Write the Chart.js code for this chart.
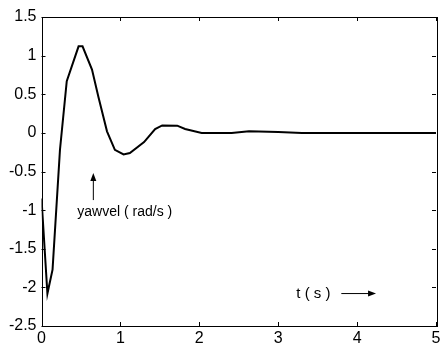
<!DOCTYPE html>
<html>
<head>
<meta charset="utf-8">
<script src="https://cdn.jsdelivr.net/npm/chart.js@4"></script>
<style>
  body { margin: 0; background: #fff; }
  canvas { display: block; }
</style>
</head>
<body>
<canvas id="chart" width="441" height="347"></canvas>
<script>
// yaw velocity step response
var time   = [0, 0.075, 0.14, 0.234, 0.32, 0.47, 0.52, 0.64, 0.72, 0.83, 0.93, 1.04, 1.12, 1.3, 1.44, 1.53, 1.72, 1.82, 2.03, 2.41, 2.63, 3.0, 3.3, 5];
var yawvel = [-0.85, -2.08, -1.77, -0.22, 0.67, 1.12, 1.12, 0.82, 0.47, 0.02, -0.22, -0.28, -0.26, -0.12, 0.05, 0.097, 0.093, 0.05, 0, 0, 0.02, 0.01, 0, 0];
var xTicks = [0, 1, 2, 3, 4, 5];
var yTicks = [-2.5, -2, -1.5, -1, -0.5, 0, 0.5, 1, 1.5];

var points = time.map(function(t, i){ return {x: t, y: yawvel[i]}; });
var FAMILY = '"Liberation Sans", Arial, sans-serif';

function arrow(ctx, x1, y1, x2, y2) {
  var a = Math.atan2(y2 - y1, x2 - x1);
  ctx.beginPath();
  ctx.moveTo(x1, y1);
  ctx.lineTo(x2 - 6 * Math.cos(a), y2 - 6 * Math.sin(a));
  ctx.stroke();
  ctx.beginPath();
  ctx.moveTo(x2, y2);
  ctx.lineTo(x2 - 8 * Math.cos(a) + 3 * Math.sin(a), y2 - 8 * Math.sin(a) - 3 * Math.cos(a));
  ctx.lineTo(x2 - 8 * Math.cos(a) - 3 * Math.sin(a), y2 - 8 * Math.sin(a) + 3 * Math.cos(a));
  ctx.closePath();
  ctx.fill();
}

var frame = {
  id: 'frame',
  afterDraw: function(chart) {
    var ctx = chart.ctx, a = chart.chartArea;
    var xs = chart.scales.x, ys = chart.scales.y;
    ctx.save();
    ctx.strokeStyle = '#000';
    ctx.fillStyle = '#000';
    ctx.lineWidth = 1;
    ctx.strokeRect(Math.round(a.left) + 0.5, Math.round(a.top) + 0.5,
                   Math.round(a.right - a.left), Math.round(a.bottom - a.top));
    ctx.beginPath();
    xTicks.forEach(function(v){
      var px = Math.round(xs.getPixelForValue(v)) + 0.5;
      ctx.moveTo(px, a.bottom); ctx.lineTo(px, a.bottom - 4);
      ctx.moveTo(px, a.top); ctx.lineTo(px, a.top + 4);
    });
    yTicks.forEach(function(v){
      var py = Math.round(ys.getPixelForValue(v)) + 0.5;
      ctx.moveTo(a.left, py); ctx.lineTo(a.left + 4, py);
      ctx.moveTo(a.right, py); ctx.lineTo(a.right - 4, py);
    });
    ctx.stroke();

    // annotations
    ctx.textBaseline = 'middle';
    ctx.textAlign = 'left';
    ctx.font = '14px ' + FAMILY;
    ctx.fillText('yawvel ( rad/s )', xs.getPixelForValue(0.454), ys.getPixelForValue(-1.02));
    arrow(ctx, xs.getPixelForValue(0.657), ys.getPixelForValue(-0.87),
               xs.getPixelForValue(0.657), ys.getPixelForValue(-0.52));
    ctx.font = '15px ' + FAMILY;
    ctx.fillText('t ( s )', xs.getPixelForValue(3.23), ys.getPixelForValue(-2.08));
    arrow(ctx, xs.getPixelForValue(3.80), ys.getPixelForValue(-2.08),
               xs.getPixelForValue(4.24), ys.getPixelForValue(-2.08));
    ctx.restore();
  }
};

new Chart(document.getElementById('chart'), {
  type: 'scatter',
  data: {
    datasets: [{
      data: points,
      showLine: true,
      borderColor: '#000',
      borderWidth: 2,
      pointRadius: 0,
      tension: 0
    }]
  },
  options: {
    responsive: false,
    animation: false,
    layout: { padding: { top: 17, right: 5, left: 0, bottom: 0 } },
    plugins: { legend: { display: false }, tooltip: { enabled: false } },
    scales: {
      x: {
        type: 'linear', min: 0, max: 5,
        afterFit: function(s){ s.height = 21; s.paddingLeft = 0; s.paddingRight = 0; },
        afterBuildTicks: function(s){ s.ticks = xTicks.map(function(v){ return {value: v}; }); },
        grid: { display: false, drawTicks: false },
        border: { display: false },
        ticks: { color: '#000', font: { family: FAMILY, size: 16 }, padding: 3, maxRotation: 0,
                 callback: function(v){ return String(v); } }
      },
      y: {
        type: 'linear', min: -2.5, max: 1.5,
        afterFit: function(s){ s.width = 41.5; s.paddingTop = 0; s.paddingBottom = 0; },
        afterBuildTicks: function(s){ s.ticks = yTicks.map(function(v){ return {value: v}; }); },
        grid: { display: false, drawTicks: false },
        border: { display: false },
        ticks: { color: '#000', font: { family: FAMILY, size: 16 }, padding: 5,
                 callback: function(v){ return String(v); } }
      }
    }
  },
  plugins: [frame]
});
</script>
</body>
</html>
